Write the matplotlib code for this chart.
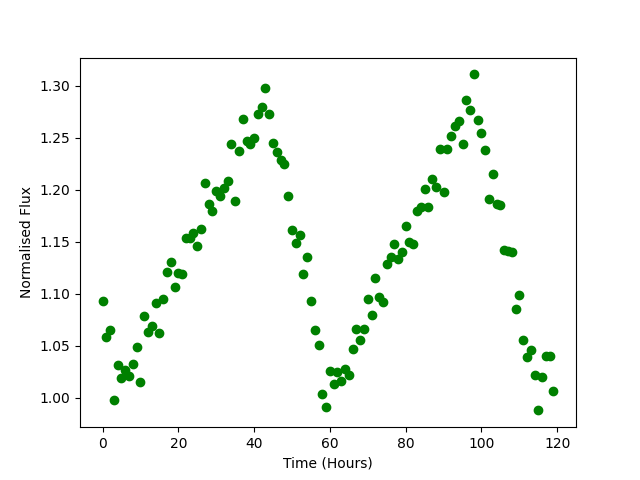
import numpy as np
import matplotlib
matplotlib.use('Agg')
import matplotlib.pyplot as plt

# normalised flux, one reading per hour
flux = [
    1.093, 1.059, 1.065, 0.998, 1.032, 1.019, 1.027, 1.021, 1.033, 1.049,
    1.015, 1.079, 1.063, 1.069, 1.091, 1.062, 1.095, 1.121, 1.131, 1.107,
    1.120, 1.119, 1.154, 1.154, 1.159, 1.146, 1.162, 1.207, 1.186, 1.180,
    1.199, 1.194, 1.202, 1.209, 1.244, 1.189, 1.237, 1.268, 1.247, 1.244,
    1.250, 1.273, 1.280, 1.298, 1.273, 1.245, 1.236, 1.229, 1.225, 1.194,
    1.161, 1.149, 1.157, 1.119, 1.135, 1.093, 1.065, 1.051, 1.004, 0.991,
    1.026, 1.013, 1.025, 1.016, 1.028, 1.022, 1.047, 1.066, 1.056, 1.066,
    1.095, 1.080, 1.115, 1.097, 1.092, 1.129, 1.135, 1.148, 1.134, 1.140,
    1.165, 1.150, 1.148, 1.180, 1.184, 1.201, 1.184, 1.210, 1.203, 1.239,
    1.198, 1.239, 1.252, 1.261, 1.266, 1.244, 1.286, 1.277, 1.311, 1.267,
    1.255, 1.238, 1.191, 1.215, 1.186, 1.185, 1.142, 1.141, 1.140, 1.085,
    1.099, 1.056, 1.039, 1.046, 1.022, 0.988, 1.020, 1.040, 1.040, 1.007,
]
hours = np.arange(len(flux))

fig, ax = plt.subplots(figsize=(6.4, 4.8), dpi=100)
ax.plot(hours, flux, 'go')
ax.set_xlabel('Time (Hours)')
ax.set_ylabel('Normalised Flux')

fig.savefig('out.png', dpi=100)
